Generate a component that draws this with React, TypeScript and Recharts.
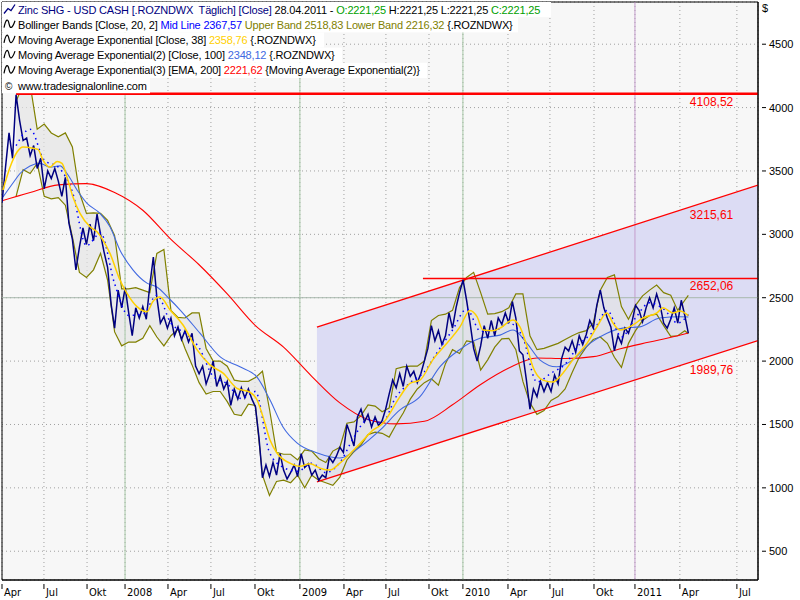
import React from 'react'
import {
  Area,
  CartesianGrid,
  ComposedChart,
  Line,
  ReferenceArea,
  ReferenceDot,
  ReferenceLine,
  XAxis,
  YAxis,
} from 'recharts'

// x axis = months from 1 Apr 2007 (trading-day axis, so month starts are not evenly spaced)
const tickMonths = [0, 2.98, 6.04, 8.74, 11.79, 14.84, 17.97, 21.16, 24.29, 27.27, 30.33, 32.74, 35.94, 38.92, 42.05, 44.96, 48.15, 52.2]
const tickLabels = ['Apr', 'Jul', 'Okt', '2008', 'Apr', 'Jul', 'Okt', '2009', 'Apr', 'Jul', 'Okt', '2010', 'Apr', 'Jul', 'Okt', '2011', 'Apr', 'Jul']
const yearMonths = [8.74, 21.16, 32.74]
const cursorMonth = 44.96
const cursorPrice = 2500
const priceTicks = [500, 1000, 1500, 2000, 2500, 3000, 3500, 4000, 4500]
const lastMonth = 48.75

// Zinc close, one value every quarter month
const closeStep = 0.25
const close = [
  3250, 3530, 3800, 3600, 4100, 3900, 3740, 3760, 3620, 3700,
  3520, 3600, 3360, 3500, 3440, 3520, 3420, 3300, 3450, 3090,
  2960, 2720, 2900, 3050, 2920, 3080, 2950, 3160, 3000, 2860,
  2740, 2450, 2260, 2560, 2420, 2580, 2380, 2200, 2420, 2340,
  2430, 2330, 2600, 2820, 2500, 2300, 2350, 2260, 2340, 2200,
  2270, 2170, 2240, 2150, 2220, 1960, 1900, 1960, 1820, 1900,
  2000, 1800, 1880, 1780, 1840, 1650, 1780, 1700, 1790, 1710,
  1780, 1700, 1640, 1400, 1080, 1180, 1090, 1200, 1100, 1270,
  1140, 1070, 1120, 1180, 1090, 1270, 1160, 1190, 1100, 1140,
  1060, 1100, 1080, 1240, 1200, 1250, 1320, 1280, 1500, 1420,
  1330, 1560, 1620, 1520, 1580, 1480, 1560, 1490, 1530, 1620,
  1740, 1850, 1790, 1900, 1800, 1960, 1880, 1920, 1830, 1900,
  2000, 2100, 2280, 2160, 2240, 2130, 2200, 2380, 2260, 2420,
  2540, 2640, 2480, 2300, 2100, 2000, 2120, 2280, 2180, 2320,
  2200, 2340, 2290, 2380, 2300, 2470, 2340, 2080, 2050, 1850,
  1620, 1780, 1720, 1840, 1760, 1830, 1760, 1890, 1820, 2020,
  2110, 2080, 2160, 2070, 2200, 2130, 2210, 2320, 2260, 2440,
  2560, 2420, 2340, 2270, 2080, 2200, 2140, 2260, 2220, 2310,
  2440, 2400, 2310, 2420, 2500, 2420, 2530, 2440, 2300, 2260,
  2330, 2420, 2300, 2480, 2360, 2221.25,
]

// Bollinger bands, every half month from month 1, last value at the last bar
const bbStart = 1
const bbStep = 0.5
const bbUpper = [
  4050, 4180, 4180, 3830, 3870, 3800, 3770, 3800, 3690, 3330,
  3165, 3170, 3165, 3110, 2990, 2570, 2570, 2580, 2560, 2540,
  2850, 2880, 2400, 2345, 2340, 2380, 2380, 2100, 2000, 2000,
  1960, 1850, 1840, 1840, 1870, 1920, 1620, 1280, 1265, 1265,
  1220, 1300, 1290, 1230, 1200, 1290, 1320, 1510, 1520, 1570,
  1655, 1645, 1600, 1630, 1940, 1955, 1960, 1960, 2000, 2320,
  2360, 2370, 2400, 2580, 2660, 2700, 2540, 2370, 2375, 2390,
  2420, 2530, 2530, 2200, 2090, 2100, 2120, 2140, 2170, 2200,
  2225, 2240, 2300, 2560, 2660, 2680, 2430, 2330, 2440, 2515,
  2560, 2600, 2540, 2520, 2400, 2480, 2518.83,
]
const bbLower = [
  3300, 3510, 3480, 3560, 3300, 3280, 3290, 3230, 2980, 2700,
  2660, 2720, 2850, 2640, 2230, 2120, 2150, 2150, 2180, 2280,
  2190, 2120, 2200, 2250, 2100, 1970, 1830, 1740, 1760, 1760,
  1680, 1580, 1570, 1660, 1650, 1100, 940, 1050, 1060, 1040,
  1100, 1000, 1100, 1060, 1040, 1020, 1085, 1220, 1285, 1340,
  1420, 1440, 1430, 1400, 1500, 1590, 1700, 1780, 1830, 1860,
  1810, 1980, 2090, 2060, 2160, 2150, 1930, 2010, 2110, 2175,
  2180, 2090, 1840, 1670, 1580, 1610, 1690, 1720, 1780, 1910,
  2030, 2110, 2170, 2190, 2140, 2030, 1950, 2140, 2240, 2320,
  2360, 2370, 2280, 2195, 2200, 2240, 2216.32,
]
// Bollinger mid line, monthly from month 1
const bbMid = [
  3700, 3830, 3585, 3530, 3335, 2910, 3010, 2610, 2360, 2370,
  2520, 2300, 2220, 2105, 1880, 1820, 1705, 1760, 1280, 1160,
  1130, 1195, 1120, 1200, 1400, 1540, 1515, 1720, 1830, 1915,
  2085, 2245, 2410, 2235, 2240, 2300, 2185, 1835, 1905, 1975,
  2130, 2235, 2400, 2190, 2340, 2460, 2410, 2300, 2367.57,
]

// [month, value]
const ema38: [number, number][] = [
  [0.07, 3350], [0.57, 3530], [1.07, 3650], [1.49, 3690], [2.2, 3680], [2.56, 3670], [2.91, 3585],
  [3.41, 3530], [3.91, 3575], [4.26, 3560], [4.62, 3450], [5.04, 3295], [5.54, 3165], [6.25, 3060],
  [6.75, 3020], [7.17, 2955], [7.67, 2850], [8.38, 2640], [8.88, 2535], [9.59, 2430], [10.3, 2390],
  [10.72, 2470], [11.22, 2505], [11.93, 2405], [12.86, 2285], [13.85, 2090], [14.77, 1970], [15.7, 1905],
  [16.69, 1785], [17.6, 1755], [18.11, 1695], [18.54, 1560], [19.03, 1380], [19.53, 1275], [20.45, 1195],
  [21.16, 1170], [21.88, 1190], [22.59, 1155], [23.3, 1140], [24.0, 1195], [25.43, 1350], [26.35, 1455],
  [27.06, 1510], [28.27, 1720], [28.98, 1825], [29.69, 1850], [30.6, 2010], [31.6, 2140], [32.53, 2270],
  [33.24, 2400], [33.74, 2350], [34.16, 2245], [34.87, 2240], [35.37, 2260], [36.3, 2325], [36.79, 2270],
  [37.29, 2115], [37.71, 1955], [38.42, 1850], [39.13, 1835], [39.84, 1905], [40.55, 2010], [41.55, 2140],
  [42.26, 2270], [42.97, 2380], [43.4, 2300], [43.89, 2245], [44.82, 2285], [45.53, 2340], [46.52, 2380],
  [46.95, 2420], [47.66, 2380], [48.15, 2395], [48.75, 2358.76],
]
const ema100: [number, number][] = [
  [0.07, 3295], [0.78, 3405], [1.28, 3480], [1.99, 3540], [2.7, 3560], [3.41, 3530], [4.12, 3540],
  [4.62, 3480], [5.33, 3350], [6.04, 3245], [6.96, 3165], [7.67, 3060], [8.38, 2875], [9.3, 2720],
  [10.3, 2615], [11.0, 2585], [11.9, 2490], [12.64, 2405], [14.06, 2220], [15.48, 2035], [16.9, 1955],
  [18.1, 1875], [19.03, 1695], [19.96, 1480], [20.95, 1355], [22.4, 1275], [24.0, 1235], [25.4, 1320],
  [26.85, 1455], [28.27, 1615], [29.69, 1720], [31.1, 1955], [32.5, 2090], [33.95, 2180], [35.37, 2205],
  [36.3, 2245], [37.29, 2140], [38.2, 2010], [39.4, 1955], [40.55, 2010], [41.76, 2140], [42.97, 2220],
  [44.1, 2260], [45.3, 2270], [46.73, 2340], [48.15, 2350], [48.75, 2348.12],
]
const ema200: [number, number][] = [
  [0, 3265], [2, 3330], [4, 3390], [6, 3400], [8, 3330], [10, 3190], [12, 2960], [14, 2760],
  [16, 2530], [18, 2280], [20, 2110], [22, 1880], [24, 1670], [26, 1540], [28, 1505], [30, 1525],
  [32, 1655], [34, 1815], [36, 1945], [38, 2025], [40, 2020], [42, 2035], [44, 2100], [46, 2150],
  [48, 2200], [48.75, 2221.62],
]

// regression channel drawn on the chart
const channelMonths = [22.37, 53.7]
const channelUpper = [2268, 3388]
const channelLower = [1047, 2162]
const highLine = { from: 1.0, value: 4108.52 }
const resistLine = { from: 29.9, value: 2652.06 }
const lineLabels = [4108.52, 3215.61, 2652.06, 1989.76]
const labelMonth = 48.86

const xDomain: [number, number] = [0, 53.7]
const yDomain: [number, number] = [273, 4833]

const closeData = close.map((v, i) => ({ m: i * closeStep, v }))
const bbMonth = (i: number, n: number, step: number) => (i === n - 1 ? lastMonth : bbStart + i * step)
const bandData = bbUpper.map((u, i) => ({ m: bbMonth(i, bbUpper.length, bbStep), u, l: bbLower[i], r: [bbLower[i], u] }))
const midData = bbMid.map((v, i) => ({ m: bbMonth(i, bbMid.length, 1), v }))
const toData = (pts: [number, number][]) => pts.map(([m, v]) => ({ m, v }))
const channelData = channelMonths.map((m, i) => ({ m, u: channelUpper[i], l: channelLower[i], r: [channelLower[i], channelUpper[i]] }))

const fmt = (v: number) => v.toFixed(2).replace('.', ',')

const XTick = ({ x, y, index }: any) => (
  <g>
    <line x1={x} x2={x} y1={y + 2} y2={y + 7} stroke="#000" />
    <text x={x + 2} y={y + 14} fontSize={11} fontFamily="'Liberation Sans Narrow', 'DejaVu Sans Condensed', Arial" fill="#000">
      {tickLabels[index]}
    </text>
  </g>
)

const YTick = ({ x, y, payload }: any) => (
  <g>
    <line x1={x + 2} x2={x + 6} y1={y} y2={y} stroke="#000" />
    <text x={x + 9} y={y + 4} fontSize={11} fontFamily="'Liberation Sans', Arial" fill="#000">
      {payload.value}
    </text>
  </g>
)

const LineLabel = ({ cx, cy, value }: any) => (
  <text x={cx} y={cy + 12} fontSize={12} fontFamily="'Liberation Sans', Arial" fill="#ff0000">
    {fmt(value)}
  </text>
)

type Seg = [string, string]
const legendRows: { segs: Seg[]; width: number; icon: 'price' | 'ind' | 'copy' }[] = [
  {
    icon: 'price',
    width: 529,
    segs: [
      ['Zinc SHG - USD CASH [.ROZNDWX  Täglich] [Close] ', '#000080'],
      ['28.04.2011 - ', '#000000'],
      ['O:2221,25', '#00a000'],
      [' H:2221,25 L:2221,25 ', '#000000'],
      ['C:2221,25', '#00a000'],
    ],
  },
  {
    icon: 'ind',
    width: 496,
    segs: [
      ['Bollinger Bands [Close, 20, 2] ', '#000000'],
      ['Mid Line 2367,57 ', '#0000ff'],
      ['Upper Band 2518,83 Lower Band 2216,32 ', '#808000'],
      ['{.ROZNDWX}', '#000000'],
    ],
  },
  {
    icon: 'ind',
    width: 302,
    segs: [
      ['Moving Average Exponential [Close, 38] ', '#000000'],
      ['2358,76 ', '#ffd000'],
      ['{.ROZNDWX}', '#000000'],
    ],
  },
  {
    icon: 'ind',
    width: 320,
    segs: [
      ['Moving Average Exponential(2) [Close, 100] ', '#000000'],
      ['2348,12 ', '#4169e1'],
      ['{.ROZNDWX}', '#000000'],
    ],
  },
  {
    icon: 'ind',
    width: 405,
    segs: [
      ['Moving Average Exponential(3) [EMA, 200] ', '#000000'],
      ['2221,62 ', '#ff0000'],
      ['{Moving Average Exponential(2)}', '#000000'],
    ],
  },
  {
    icon: 'copy',
    width: 128,
    segs: [['www.tradesignalonline.com', '#000000']],
  },
]

const Legend = () => (
  <svg width={800} height={100} style={{ position: 'absolute', left: 0, top: 0, pointerEvents: 'none' }}>
    {legendRows.map((row, i) => {
      const top = 2 + i * 15.2
      const base = top + 11.5
      return (
        <g key={i}>
          <rect x={2} y={top} width={row.width + 20} height={15.2} fill="#ffffff" />
          {row.icon === 'price' && (
            <path d={`M4 ${base} L8 ${base - 5} L11 ${base - 3} L15 ${base - 9}`} stroke="#000080" strokeWidth={1.3} fill="none" />
          )}
          {row.icon === 'ind' && (
            <path d={`M4 ${base - 1} C6 ${base - 11}, 8 ${base - 10}, 9 ${base - 5} S12 ${base + 1}, 15 ${base - 8}`} stroke="#000" strokeWidth={1.2} fill="none" />
          )}
          {row.icon === 'copy' && (
            <text x={5} y={base} fontSize={10} fontFamily="'Liberation Sans', Arial">©</text>
          )}
          <text x={18} y={base} fontSize={11} letterSpacing={-0.18} fontFamily="'Liberation Sans', Arial" style={{ whiteSpace: 'pre' }}>
            {row.segs.map(([t, c], j) => (
              <tspan key={j} fill={c}>
                {t}
              </tspan>
            ))}
          </text>
        </g>
      )
    })}
  </svg>
)

export default function App() {
  return (
    <div style={{ position: 'absolute', left: 0, top: 0, width: 800, height: 600, background: '#fff' }}>
      <ComposedChart width={800} height={600} margin={{ top: 2, right: 0, bottom: 0, left: 2 }}>
        <CartesianGrid fill="#f7f7f7" stroke="#a0a0a0" strokeDasharray="1 3" />
        <XAxis
          type="number"
          dataKey="m"
          domain={xDomain}
          ticks={tickMonths}
          interval={0}
          allowDataOverflow
          height={20}
          tickSize={0}
          tickLine={false}
          axisLine={{ stroke: '#000' }}
          tick={<XTick />}
        />
        <YAxis
          orientation="right"
          type="number"
          domain={yDomain}
          ticks={priceTicks}
          interval={0}
          allowDataOverflow
          width={42}
          tickSize={0}
          tickLine={false}
          axisLine={{ stroke: '#000' }}
          tick={<YTick />}
        />
        <Area data={channelData} dataKey="r" type="linear" fill="#dcdcf4" fillOpacity={1} stroke="none" isAnimationActive={false} />
        {yearMonths.map((m) => (
          <ReferenceLine key={m} x={m} stroke="#a8c8a8" />
        ))}
        <ReferenceLine x={cursorMonth} stroke="#c49ccc" />
        <ReferenceLine y={cursorPrice} stroke="#a8b8ac" />
        <Area data={bandData} dataKey="r" type="linear" fill="#e4e4e4" fillOpacity={0.65} stroke="none" isAnimationActive={false} />
        <Line data={bandData} dataKey="u" type="linear" stroke="#808000" strokeWidth={1.2} dot={false} isAnimationActive={false} />
        <Line data={bandData} dataKey="l" type="linear" stroke="#808000" strokeWidth={1.2} dot={false} isAnimationActive={false} />
        <Line data={channelData} dataKey="u" type="linear" stroke="#ff0000" strokeWidth={1.3} dot={false} isAnimationActive={false} />
        <Line data={channelData} dataKey="l" type="linear" stroke="#ff0000" strokeWidth={1.3} dot={false} isAnimationActive={false} />
        <ReferenceLine segment={[{ x: highLine.from, y: highLine.value }, { x: xDomain[1], y: highLine.value }]} stroke="#ff0000" strokeWidth={2.5} />
        <ReferenceLine segment={[{ x: resistLine.from, y: resistLine.value }, { x: xDomain[1], y: resistLine.value }]} stroke="#ff0000" strokeWidth={1.5} />
        <Line data={toData(ema200)} dataKey="v" type="monotone" stroke="#ff0000" strokeWidth={1.1} dot={false} isAnimationActive={false} />
        <Line data={toData(ema100)} dataKey="v" type="monotone" stroke="#4169e1" strokeWidth={1.1} dot={false} isAnimationActive={false} />
        <Line data={closeData} dataKey="v" type="linear" stroke="#000080" strokeWidth={1.5} dot={false} isAnimationActive={false} />
        <Line data={midData} dataKey="v" type="monotone" stroke="#0000ff" strokeWidth={1.5} strokeDasharray="1.5 4" dot={false} isAnimationActive={false} />
        <Line data={toData(ema38)} dataKey="v" type="monotone" stroke="#ffd000" strokeWidth={1.5} dot={false} isAnimationActive={false} />
        {lineLabels.map((v) => (
          <ReferenceDot key={v} x={labelMonth} y={v} r={0} shape={(p: any) => <LineLabel {...p} value={v} />} />
        ))}
        <ReferenceArea x1={xDomain[0]} x2={xDomain[1]} y1={yDomain[0]} y2={yDomain[1]} fill="none" stroke="#000" strokeWidth={1} />
      </ComposedChart>
      <Legend />
      <div style={{ position: 'absolute', left: 762, top: 2, fontSize: 11, fontFamily: "'Liberation Sans', Arial" }}>$</div>
    </div>
  )
}
